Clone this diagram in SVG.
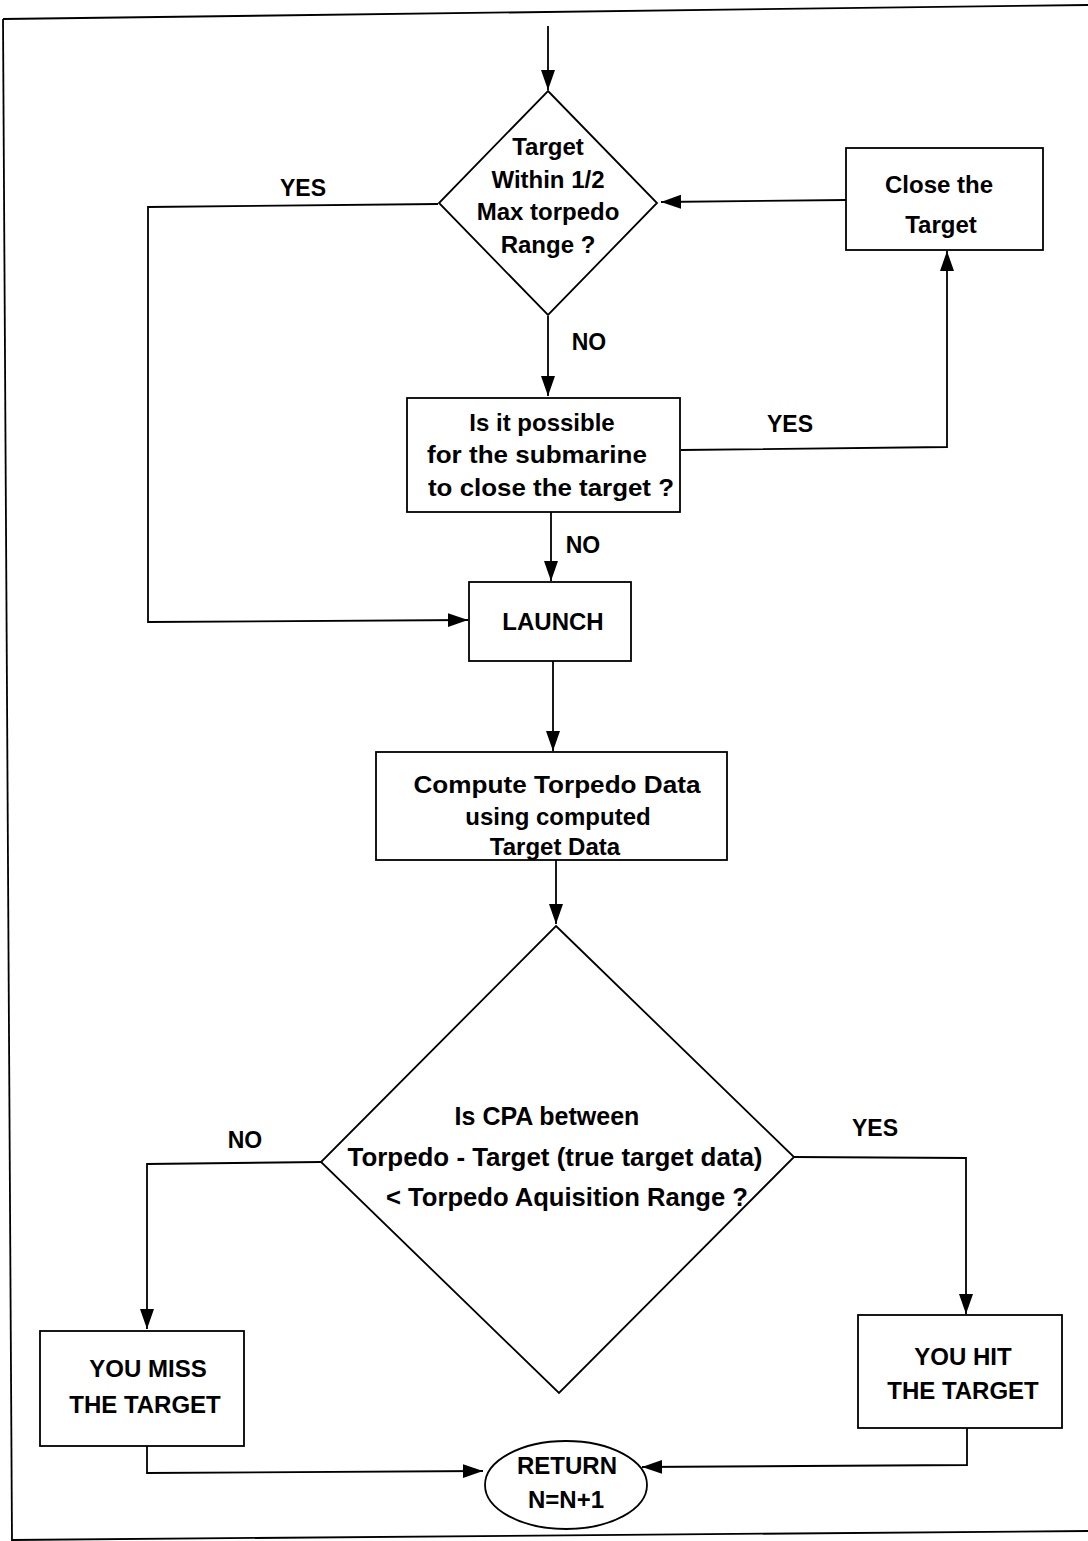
<svg xmlns="http://www.w3.org/2000/svg" width="1088" height="1541" viewBox="0 0 1088 1541">
<style>
.shape{fill:#fff;stroke:#000;stroke-width:1.8}
.line{fill:none;stroke:#000;stroke-width:1.8}
text{font-family:"Liberation Sans",Arial,sans-serif;font-weight:bold;font-size:24px;fill:#000;text-anchor:middle}
.lbl{font-size:23px}
</style>
<defs>
<marker id="ah" markerUnits="userSpaceOnUse" markerWidth="22" markerHeight="16" refX="20" refY="7" orient="auto">
<path d="M0,0 L20,7 L0,14 z" fill="#000"/>
</marker>
</defs>
<rect width="1088" height="1541" fill="#fff"/>
<g id="border">
<path class="line" d="M3,19 L1088,5"/>
<path class="line" d="M3,19 L12,1541"/>
<path class="line" d="M12,1540 L1088,1531"/>
</g>
<g id="connectors">
<path class="line" d="M548,26 L548,90" marker-end="url(#ah)"/>
<path class="line" d="M438,204 L148,207 L148,622 L468,620" marker-end="url(#ah)"/>
<path class="line" d="M846,200 L661,202" marker-end="url(#ah)"/>
<path class="line" d="M548,316 L548,396" marker-end="url(#ah)"/>
<path class="line" d="M681,450 L947,447 L947,251" marker-end="url(#ah)"/>
<path class="line" d="M551,512 L551,581" marker-end="url(#ah)"/>
<path class="line" d="M553,661 L553,751" marker-end="url(#ah)"/>
<path class="line" d="M556,860 L556,924" marker-end="url(#ah)"/>
<path class="line" d="M321,1162 L147,1164 L147,1329" marker-end="url(#ah)"/>
<path class="line" d="M793,1157 L966,1158 L966,1314" marker-end="url(#ah)"/>
<path class="line" d="M147,1446 L147,1473 L483,1471" marker-end="url(#ah)"/>
<path class="line" d="M967,1428 L967,1465 L642,1467" marker-end="url(#ah)"/>
</g>
<g id="labels">
<text class="lbl" x="303" y="196">YES</text>
<text class="lbl" x="589" y="350">NO</text>
<text class="lbl" x="790" y="432">YES</text>
<text class="lbl" x="583" y="553">NO</text>
<text class="lbl" x="245" y="1148">NO</text>
<text class="lbl" x="875" y="1136">YES</text>
</g>
<g id="n_range">
<path class="shape" d="M548,91 L657,203 L548,315 L439,203 Z"/>
<text x="548" y="155">Target</text>
<text x="548" y="188">Within 1/2</text>
<text x="548" y="220">Max torpedo</text>
<text x="548" y="253">Range ?</text>
</g>
<g id="n_close">
<rect class="shape" x="846" y="148" width="197" height="102"/>
<text x="939" y="193">Close the</text>
<text x="941" y="233">Target</text>
</g>
<g id="n_possible">
<rect class="shape" x="407" y="398" width="273" height="114"/>
<text x="542" y="431">Is it possible</text>
<text x="537" y="463" textLength="220" lengthAdjust="spacingAndGlyphs">for the submarine</text>
<text x="551" y="496" textLength="246" lengthAdjust="spacingAndGlyphs">to close the target ?</text>
</g>
<g id="n_launch">
<rect class="shape" x="469" y="582" width="162" height="79"/>
<text x="553" y="630">LAUNCH</text>
</g>
<g id="n_compute">
<rect class="shape" x="376" y="752" width="351" height="108"/>
<text x="557" y="793" textLength="287" lengthAdjust="spacingAndGlyphs">Compute Torpedo Data</text>
<text x="558" y="825">using computed</text>
<text x="555" y="855">Target Data</text>
</g>
<g id="n_cpa">
<path class="shape" d="M556,926 L794,1157 L559,1393 L321,1162 Z"/>
<text x="547" y="1125" style="font-size:25px">Is CPA between</text>
<text x="555" y="1166" style="font-size:25px" textLength="415" lengthAdjust="spacingAndGlyphs">Torpedo - Target (true target data)</text>
<text x="567" y="1206" style="font-size:25px" textLength="362" lengthAdjust="spacingAndGlyphs">&lt; Torpedo Aquisition Range ?</text>
</g>
<g id="n_miss">
<rect class="shape" x="40" y="1331" width="204" height="115"/>
<text x="148" y="1377">YOU MISS</text>
<text x="145" y="1413">THE TARGET</text>
</g>
<g id="n_hit">
<rect class="shape" x="858" y="1315" width="204" height="113"/>
<text x="963" y="1365">YOU HIT</text>
<text x="963" y="1399">THE TARGET</text>
</g>
<g id="n_return">
<ellipse class="shape" cx="566" cy="1485" rx="81" ry="44"/>
<text x="567" y="1474">RETURN</text>
<text x="566" y="1508">N=N+1</text>
</g>
</svg>
